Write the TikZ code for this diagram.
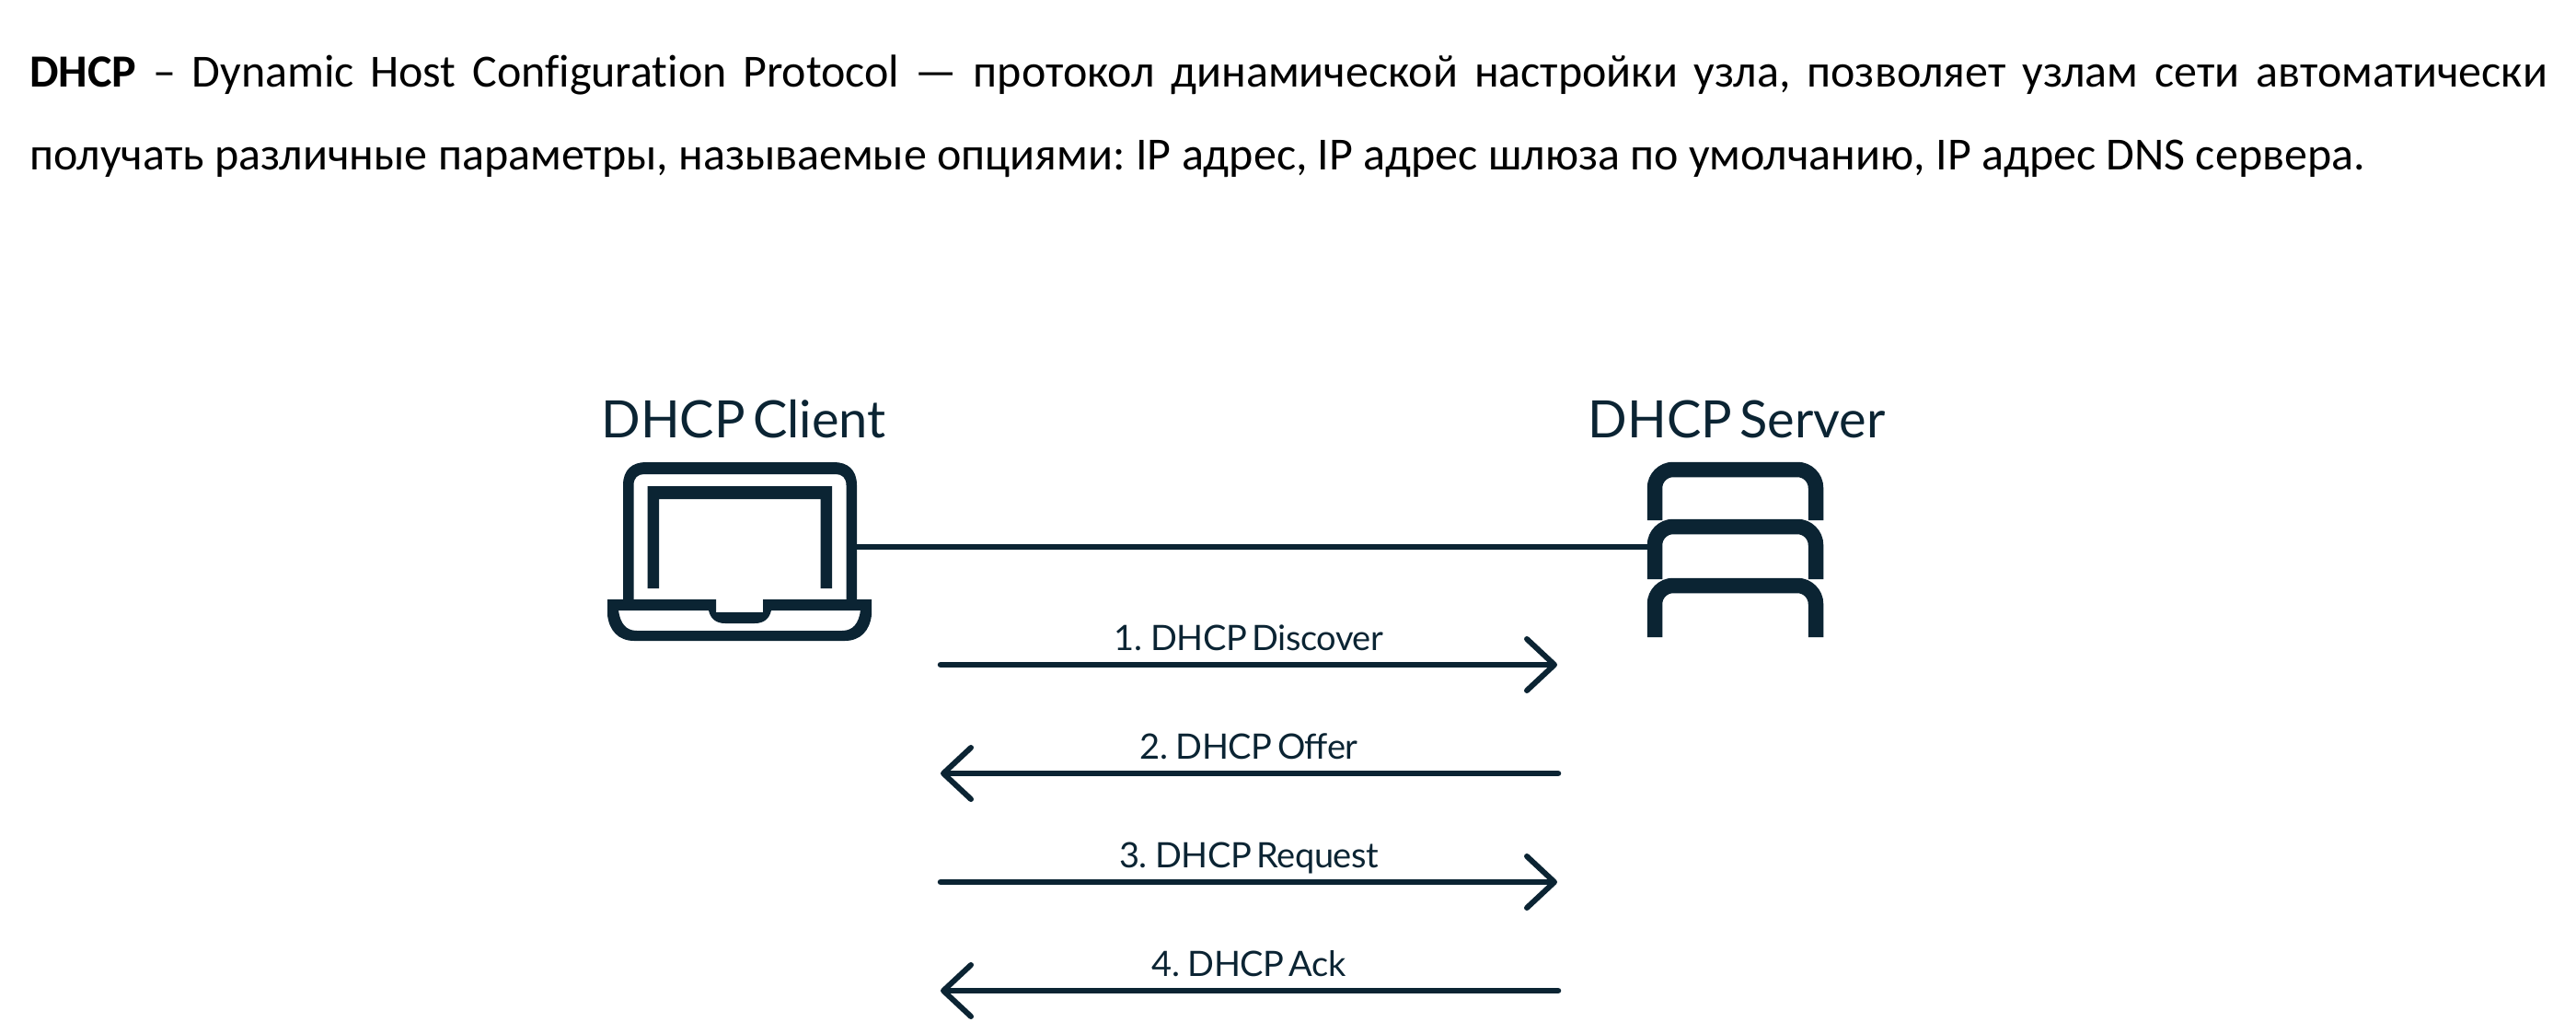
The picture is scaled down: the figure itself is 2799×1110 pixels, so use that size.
\documentclass[tikz,border=0pt]{standalone}
\usepackage{fontspec}
\setmainfont[Ligatures=CommonOff]{Carlito}
\newfontfamily\labelfont[WordSpace=0.6,LetterSpace=-0.1]{Lato}
\newfontfamily\msgfont[WordSpace=0.6,LetterSpace=-1.2]{Lato}
\usetikzlibrary{arrows.meta}
\definecolor{ink}{HTML}{0B2433}
\tikzset{
  x=1pt,y=-1pt,
  bodytext/.style={anchor=base west,inner sep=0pt,font=\frenchspacing\fontsize{50}{56}\selectfont,text=black},
  headlabel/.style={anchor=base,inner sep=0pt,font=\labelfont\fontsize{56}{60}\selectfont,text=ink},
  msglabel/.style={anchor=base,inner sep=0pt,font=\msgfont\fontsize{38}{44}\selectfont,text=ink},
  msgline/.style={draw=ink,line width=6.5pt,line cap=round,-{Straight Barb[length=30pt,width=56pt,line width=6pt,round]}},
  wire/.style={draw=ink,line width=6.5pt},
  iconfill/.style={fill=ink,draw=none,even odd rule},
  rack/.style={draw=ink,line width=16.5pt,line cap=butt}
}
\begin{document}
\begin{tikzpicture}
\useasboundingbox (0,0) rectangle (2799,1110);
\fill[white] (0,0) rectangle (2799,1110);
% text
\node[bodytext] (line1) at (32,94.5) {\makebox[2736pt][s]{\textbf{DHCP} – Dynamic Host Configuration Protocol — протокол динамической настройки узла, позволяет узлам сети автоматически}};
\node[bodytext] (line2) at (32,184.5) {получать различные параметры, называемые опциями: IP адрес, IP адрес шлюза по умолчанию, IP адрес DNS сервера.};
\node[headlabel] (clientlabel) at (808,475) {DHCP Client};
\node[headlabel] (serverlabel) at (1887,475) {DHCP Server};
% laptop lid
\path[iconfill] (677,652) -- (677,527) .. controls (677,510) and (687,502) .. (702,502) -- (906,502) .. controls (921,502) and (931,510) .. (931,527) -- (931,652) -- (919.5,652) -- (919.5,527) .. controls (919.5,519) and (915,515) .. (908,515) -- (700,515) .. controls (693,515) and (688.5,519) .. (688.5,527) -- (688.5,652) -- cycle;
% laptop screen
\path[iconfill] (703.5,639) -- (703.5,528) -- (904,528) -- (904,639) -- (891.5,639) -- (891.5,542) -- (716,542) -- (716,639) -- cycle;
% laptop base
\path[iconfill] (660,651) -- (778,651) -- (778,665) -- (829,665) -- (829,651) -- (947,651) -- (947,668) .. controls (945,685) and (935,696) .. (918,696) -- (689,696) .. controls (672,696) and (662,685) .. (660,668) -- cycle
 (672,663) -- (770,663) .. controls (772,672) and (778,677) .. (788,677) -- (820,677) .. controls (830,677) and (836,672) .. (838,663) -- (935,663) .. controls (933,677) and (927,685) .. (915,685) -- (692,685) .. controls (680,685) and (674,677) .. (672,663) -- cycle;
% server
\draw[rack] (1798,565) -- (1798,530) .. controls (1798,519) and (1807,510) .. (1818,510) -- (1953,510) .. controls (1964,510) and (1973,519) .. (1973,530) -- (1973,565);
\draw[rack] (1798,629) -- (1798,592) .. controls (1798,581) and (1807,572) .. (1818,572) -- (1953,572) .. controls (1964,572) and (1973,581) .. (1973,592) -- (1973,629);
\draw[rack] (1798,692) -- (1798,656) .. controls (1798,645) and (1807,636) .. (1818,636) -- (1953,636) .. controls (1964,636) and (1973,645) .. (1973,656) -- (1973,692);
% link
\coordinate (laptop) at (931,594);
\coordinate (server) at (1791,594);
\draw[wire] (laptop) -- (server);
% messages
\coordinate (l1) at (1022,722); \coordinate (r1) at (1692,722);
\coordinate (l2) at (1022,840); \coordinate (r2) at (1693,840);
\coordinate (l3) at (1022,958); \coordinate (r3) at (1692,958);
\coordinate (l4) at (1022,1076); \coordinate (r4) at (1693,1076);
\draw[msgline] (l1) -- (r1);
\draw[msgline] (r2) -- (l2);
\draw[msgline] (l3) -- (r3);
\draw[msgline] (r4) -- (l4);
\node[msglabel] (m1) at (1357,706) {1. DHCP Discover};
\node[msglabel] (m2) at (1357,824) {2. DHCP Offer};
\node[msglabel] (m3) at (1357,942) {3. DHCP Request};
\node[msglabel] (m4) at (1357,1060) {4. DHCP Ack};
\end{tikzpicture}
\end{document}
